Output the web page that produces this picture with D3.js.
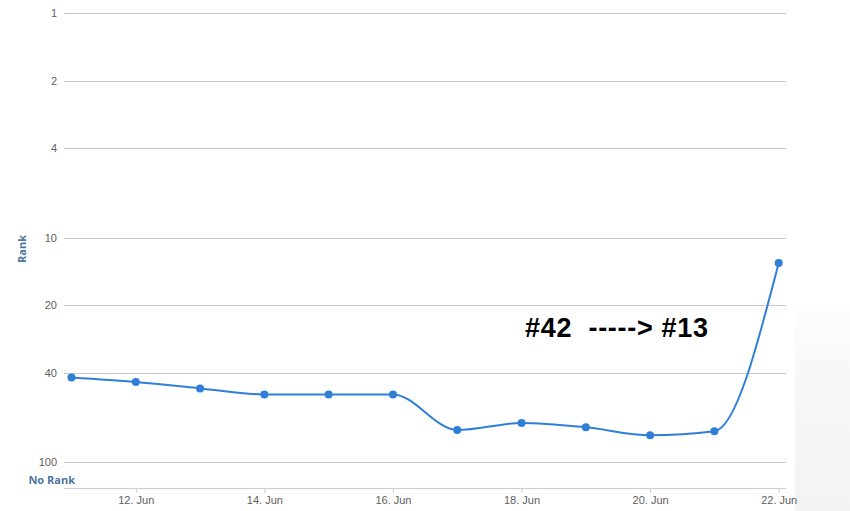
<!DOCTYPE html>
<html>
<head>
<meta charset="utf-8">
<script src="https://cdn.jsdelivr.net/npm/d3@7"></script>
<style>
	body{margin:0;background:#fff;}
	svg{display:block;font-family:"Open Sans","DejaVu Sans",sans-serif;}
</style>
</head>
<body>
<svg id="chart" width="850" height="511"></svg>
<script>
// data
const days = ["2014-06-11","2014-06-12","2014-06-13","2014-06-14","2014-06-15","2014-06-16",
	"2014-06-17","2014-06-18","2014-06-19","2014-06-20","2014-06-21","2014-06-22"];
const ranks = [42, 44, 47, 50, 50, 50, 72, 67, 70, 76, 73, 13];
const rankTicks = [1, 2, 4, 10, 20, 40, 100];
const dayTicks = ["2014-06-12","2014-06-14","2014-06-16","2014-06-18","2014-06-20","2014-06-22"];
const note = "#42  -----> #13";

const parseDay = d3.timeParse("%Y-%m-%d");
const formatDay = d3.timeFormat("%-d. %b");

const plot = {left: 64, right: 786, top: 13, bottom: 488};

var svg = d3.select('#chart');

// faint grey patch at the right edge (screenshot background)
var grad = svg.append('defs').append('linearGradient')
	.attr('id', 'edge').attr('x1', 0).attr('y1', 0).attr('x2', 0).attr('y2', 1);
grad.append('stop').attr('offset', '0%').attr('stop-color', '#fdfdfd');
grad.append('stop').attr('offset', '40%').attr('stop-color', '#f6f6f6');
grad.append('stop').attr('offset', '100%').attr('stop-color', '#f3f3f3');
svg.append('rect')
	.attr('x', 795).attr('y', 310).attr('width', 55).attr('height', 201)
	.attr('fill', 'url(#edge)');

var x = d3.scaleTime()
	.domain([parseDay(days[0]), parseDay(days[days.length-1])])
	.range([71.5, 778.7]);
var y = d3.scaleLog()
	.domain([1, 100])
	.range([13, 462]);

// grid lines + y labels
var yAxis = d3.axisLeft(y)
	.tickValues(rankTicks)
	.tickFormat(d3.format('d'))
	.tickSize(-(plot.right - plot.left))
	.tickPadding(7);
var yG = svg.append('g')
	.attr('transform', 'translate(' + plot.left + ',0)')
	.call(yAxis);
yG.select('.domain').remove();
yG.selectAll('.tick line').attr('stroke', '#c8c8c8').attr('shape-rendering', 'crispEdges');
yG.selectAll('.tick text').attr('fill', '#606060').style('font-size', '11px');

svg.append('text')
	.attr('x', 75).attr('y', 484)
	.attr('text-anchor', 'end')
	.attr('fill', '#4d759e')
	.style('font-size', '11px').style('font-weight', 'bold')
	.text('No Rank');

svg.append('text')
	.attr('transform', 'translate(26,249) rotate(-90)')
	.attr('text-anchor', 'middle')
	.attr('fill', '#4d759e')
	.style('font-size', '11px').style('font-weight', 'bold')
	.text('Rank');

// x axis
var xAxis = d3.axisBottom(x)
	.tickValues(dayTicks.map(parseDay))
	.tickFormat(formatDay)
	.tickSize(5)
	.tickPadding(3);
var xG = svg.append('g')
	.attr('transform', 'translate(0,' + plot.bottom + ')')
	.call(xAxis);
xG.select('.domain').remove();
xG.append('line')
	.attr('x1', plot.left).attr('x2', plot.right)
	.attr('stroke', '#c0d0e0').attr('shape-rendering', 'crispEdges');
xG.selectAll('.tick line').attr('stroke', '#c0d0e0');
xG.selectAll('.tick text').attr('fill', '#606060').style('font-size', '11px');

// series
var pts = days.map(function(d, i){ return {date: parseDay(d), rank: ranks[i]}; });
var line = d3.line()
	.x(function(d){ return x(d.date); })
	.y(function(d){ return y(d.rank); })
	.curve(d3.curveMonotoneX);

svg.append('path')
	.datum(pts)
	.attr('d', line)
	.attr('fill', 'none')
	.attr('stroke', '#2f7ed8')
	.attr('stroke-width', 2);

svg.selectAll('circle.pt').data(pts).enter()
	.append('circle').attr('class', 'pt')
	.attr('cx', function(d){ return x(d.date); })
	.attr('cy', function(d){ return y(d.rank); })
	.attr('r', 4)
	.attr('fill', '#2f7ed8');

// annotation
svg.append('text')
	.attr('x', 525).attr('y', 337)
	.attr('fill', '#000')
	.style('font-family', '"Liberation Sans","Open Sans",sans-serif')
	.style('font-size', '27px').style('font-weight', 'bold')
	.attr('xml:space', 'preserve')
	.attr('textLength', 183)
	.attr('lengthAdjust', 'spacing')
	.text(note);
</script>
</body>
</html>
